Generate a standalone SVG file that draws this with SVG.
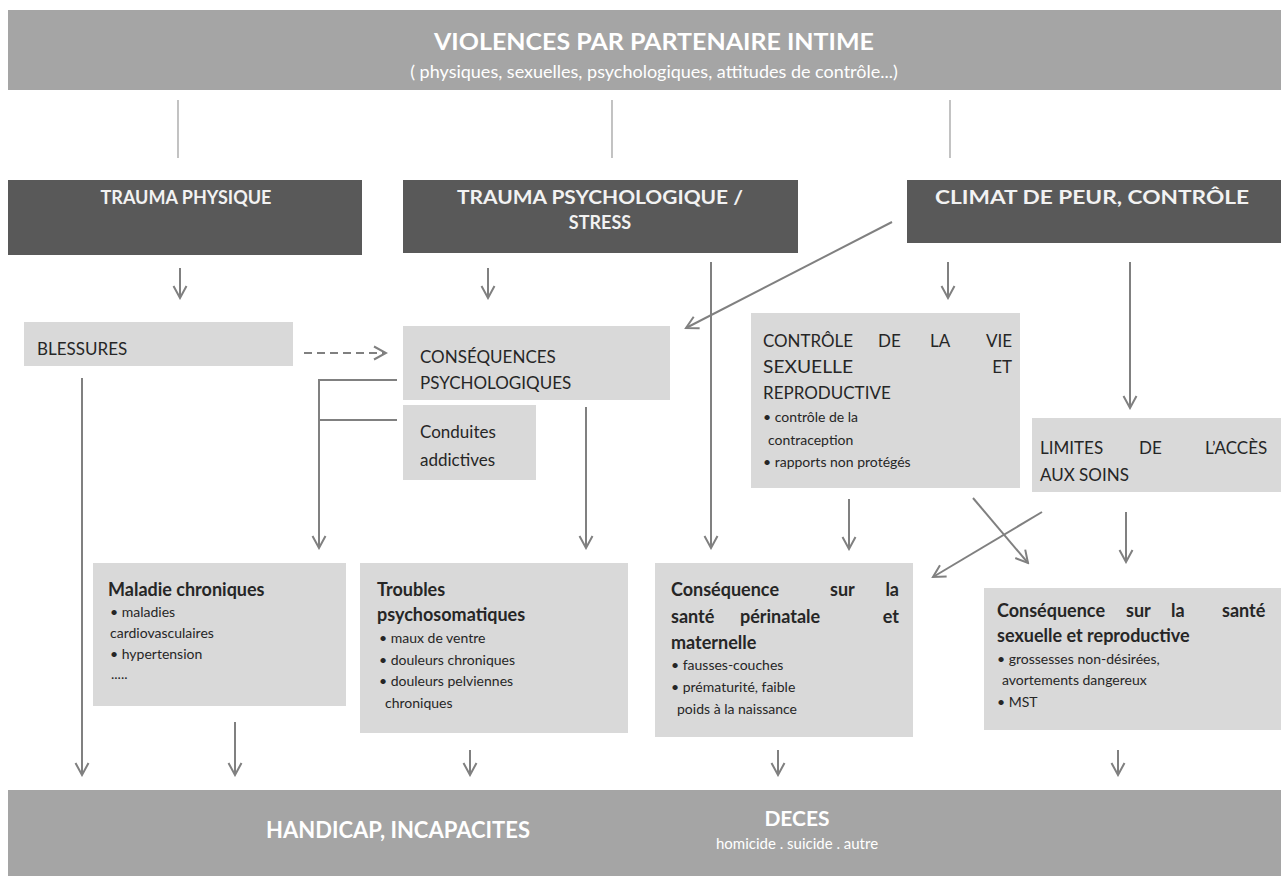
<svg xmlns="http://www.w3.org/2000/svg" width="1281" height="876" viewBox="0 0 1281 876">
<defs>
<marker id="ah" viewBox="-14 -8 16 16" markerWidth="16" markerHeight="16" refX="0" refY="0" orient="auto" markerUnits="userSpaceOnUse">
<path d="M-12,-6.5 L0,0 L-12,6.5" fill="none" stroke="#808080" stroke-width="2"/>
</marker>
</defs>
<style>
.band{fill:#a5a5a5}
.dark{fill:#595959}
.light{fill:#d9d9d9}
text{font-family:Lato,"Open Sans","Liberation Sans",sans-serif}
.wt{fill:#ffffff;font-weight:bold}
.hd{fill:#f2f2f2;font-weight:bold;font-size:18px}
.tx{fill:#262626;font-size:17px}
.bt{fill:#262626;font-size:18px;font-weight:bold}
.sm{fill:#262626;font-size:14px}
.ln{stroke:#808080;stroke-width:2;fill:none}
.thin{stroke:#9a9a9a;stroke-width:1.2;fill:none}
.arr{marker-end:url(#ah)}
</style>
<rect width="1281" height="876" fill="#ffffff"/>

<g id="top">
<rect class="band" x="8" y="10" width="1273" height="80"/>
<text class="wt" x="654" y="50" font-size="22" text-anchor="middle" textLength="440" lengthAdjust="spacingAndGlyphs">VIOLENCES PAR PARTENAIRE INTIME</text>
<text fill="#ffffff" x="654" y="78" font-size="18" text-anchor="middle">( physiques, sexuelles, psychologiques, attitudes de contrôle...)</text>
</g>

<g id="trauma-physique">
<rect class="dark" x="8" y="180" width="354" height="75"/>
<text class="hd" x="186" y="204" text-anchor="middle">TRAUMA PHYSIQUE</text>
</g>
<g id="trauma-psy">
<rect class="dark" x="403" y="180" width="395" height="73"/>
<text class="hd" x="600" y="204" text-anchor="middle" textLength="286" lengthAdjust="spacingAndGlyphs">TRAUMA PSYCHOLOGIQUE /</text>
<text class="hd" x="600" y="229" text-anchor="middle">STRESS</text>
</g>
<g id="climat">
<rect class="dark" x="907" y="180" width="374" height="63"/>
<text class="hd" x="1092" y="204" text-anchor="middle" textLength="314" lengthAdjust="spacingAndGlyphs">CLIMAT DE PEUR, CONTRÔLE</text>
</g>

<g id="blessures">
<rect class="light" x="24" y="322" width="269" height="44"/>
<text class="tx" x="37" y="355">BLESSURES</text>
</g>
<g id="cons-psy">
<rect class="light" x="403" y="326" width="267" height="74"/>
<text class="tx" x="420" y="363">CONSÉQUENCES</text>
<text class="tx" x="420" y="389">PSYCHOLOGIQUES</text>
</g>
<g id="conduites">
<rect class="light" x="403" y="405" width="133" height="75"/>
<text class="tx" x="420" y="438">Conduites</text>
<text class="tx" x="420" y="466">addictives</text>
</g>
<g id="controle">
<rect class="light" x="751" y="313" width="269" height="175"/>
<text class="tx" x="763" y="347" textLength="90" lengthAdjust="spacingAndGlyphs">CONTRÔLE</text>
<text class="tx" x="878" y="347">DE</text>
<text class="tx" x="930" y="347">LA</text>
<text class="tx" x="1012" y="347" text-anchor="end">VIE</text>
<text class="tx" x="763" y="373" textLength="90" lengthAdjust="spacingAndGlyphs">SEXUELLE</text>
<text class="tx" x="1012" y="373" text-anchor="end">ET</text>
<text class="tx" x="763" y="399">REPRODUCTIVE</text>
<text class="sm" x="763" y="422">• contrôle de la</text>
<text class="sm" x="768" y="445">contraception</text>
<text class="sm" x="763" y="467">• rapports non protégés</text>
</g>
<g id="limites">
<rect class="light" x="1032" y="418" width="249" height="74"/>
<text class="tx" x="1040" y="454">LIMITES</text>
<text class="tx" x="1139" y="454">DE</text>
<text class="tx" x="1205" y="454">L’ACCÈS</text>
<text class="tx" x="1040" y="481">AUX SOINS</text>
</g>

<g id="maladie">
<rect class="light" x="93" y="563" width="253" height="143"/>
<text class="bt" x="108" y="596">Maladie chroniques</text>
<text class="sm" x="110" y="617">• maladies</text>
<text class="sm" x="110" y="638">cardiovasculaires</text>
<text class="sm" x="110" y="659">• hypertension</text>
<text class="sm" x="111" y="679" font-size="10">.....</text>
</g>
<g id="troubles">
<rect class="light" x="360" y="563" width="268" height="170"/>
<text class="bt" x="377" y="596">Troubles</text>
<text class="bt" x="377" y="621">psychosomatiques</text>
<text class="sm" x="379" y="643">• maux de ventre</text>
<text class="sm" x="379" y="665">• douleurs chroniques</text>
<text class="sm" x="379" y="686">• douleurs pelviennes</text>
<text class="sm" x="385" y="708">chroniques</text>
</g>
<g id="perinatale">
<rect class="light" x="655" y="563" width="258" height="174"/>
<text class="bt" x="671" y="596">Conséquence</text>
<text class="bt" x="830" y="596">sur</text>
<text class="bt" x="899" y="596" text-anchor="end">la</text>
<text class="bt" x="671" y="623">santé</text>
<text class="bt" x="740" y="623">périnatale</text>
<text class="bt" x="899" y="623" text-anchor="end">et</text>
<text class="bt" x="671" y="649">maternelle</text>
<text class="sm" x="671" y="670">• fausses-couches</text>
<text class="sm" x="671" y="692">• prématurité, faible</text>
<text class="sm" x="677" y="714">poids à la naissance</text>
</g>
<g id="sexuelle">
<rect class="light" x="984" y="588" width="297" height="142"/>
<text class="bt" x="997" y="617">Conséquence</text>
<text class="bt" x="1126" y="617">sur</text>
<text class="bt" x="1171" y="617">la</text>
<text class="bt" x="1222" y="617">santé</text>
<text class="bt" x="997" y="642">sexuelle et reproductive</text>
<text class="sm" x="997" y="664">• grossesses non-désirées,</text>
<text class="sm" x="1002" y="685">avortements dangereux</text>
<text class="sm" x="997" y="707">• MST</text>
</g>

<g id="bottom">
<rect class="band" x="8" y="790" width="1273" height="86"/>
<text class="wt" x="266" y="838" font-size="22">HANDICAP, INCAPACITES</text>
<text class="wt" x="797" y="826" font-size="21" text-anchor="middle">DECES</text>
<text fill="#ffffff" x="797" y="849" font-size="15" text-anchor="middle">homicide . suicide . autre</text>
</g>

<g id="connectors">
<line class="thin" x1="178" y1="100" x2="178" y2="158"/>
<line class="thin" x1="612" y1="100" x2="612" y2="158"/>
<line class="thin" x1="950" y1="100" x2="950" y2="158"/>
<line class="ln arr" x1="180" y1="268" x2="180" y2="298"/>
<line class="ln arr" x1="488" y1="268" x2="488" y2="298"/>
<line class="ln arr" x1="711" y1="262" x2="711" y2="548"/>
<line class="ln arr" x1="892" y1="222" x2="686" y2="328"/>
<line class="ln arr" x1="948" y1="262" x2="948" y2="298"/>
<line class="ln arr" x1="1130" y1="262" x2="1130" y2="408"/>
<line class="ln arr" x1="304" y1="353" x2="386" y2="353" stroke-dasharray="8,5"/>
<path class="ln arr" d="M397,380 H319 V548"/>
<line class="ln" x1="319" y1="420" x2="397" y2="420"/>
<line class="ln arr" x1="586" y1="407" x2="586" y2="548"/>
<line class="ln arr" x1="82" y1="378" x2="82" y2="775"/>
<line class="ln arr" x1="849" y1="499" x2="849" y2="549"/>
<line class="ln arr" x1="973" y1="498" x2="1028" y2="563"/>
<line class="ln arr" x1="1042" y1="512" x2="933" y2="577"/>
<line class="ln arr" x1="1126" y1="512" x2="1126" y2="562"/>
<line class="ln arr" x1="235" y1="722" x2="235" y2="775"/>
<line class="ln arr" x1="470" y1="750" x2="470" y2="775"/>
<line class="ln arr" x1="778" y1="750" x2="778" y2="775"/>
<line class="ln arr" x1="1118" y1="750" x2="1118" y2="775"/>
</g>
</svg>
